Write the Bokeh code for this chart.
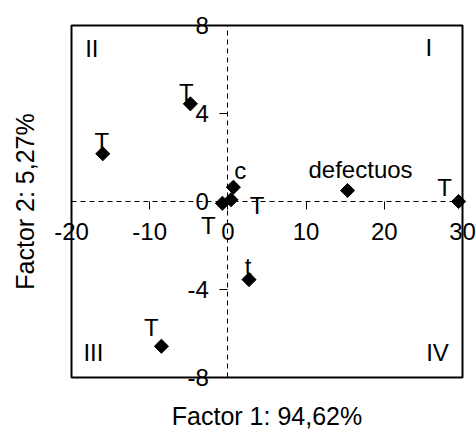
import numpy as np
from bokeh.plotting import figure
from bokeh.models import Range1d, FixedTicker, Label, ColumnDataSource, BoxAnnotation
from bokeh.core.properties import value
from bokeh.embed import file_html
from bokeh.resources import INLINE

# data
factor1 = [-16.0, -4.8, 0.7, -0.7, 0.4, 2.7, -8.5, 15.3, 29.5]
factor2 = [2.17, 4.44, 0.65, -0.08, 0.08, -3.55, -6.58, 0.5, 0.0]
point_labels = ["T", "T", "c", "T", "T", "t", "T", "defectuos", "T"]

x_ticks = [-20, -10, 0, 10, 20, 30]
y_ticks = [-8, -4, 0, 4, 8]

quadrant_names = ["I", "II", "III", "IV"]
quadrant_x = [25.7, -17.4, -17.2, 26.8]
quadrant_y = [7.0, 6.95, -6.86, -6.86]

x_title = "Factor 1: 94,62%"
y_title = "Factor 2: 5,27%"

# layout (pixels)
W, H = 476, 430
BOX_L, BOX_R, BOX_T, BOX_B = 71, 462, 25, 377
XMIN, XMAX, YMIN, YMAX = x_ticks[0], x_ticks[-1], y_ticks[0], y_ticks[-1]
sx = (BOX_R - BOX_L) / (XMAX - XMIN)
sy = (BOX_B - BOX_T) / (YMAX - YMIN)

# label placement (screen px)
label_dx = [-1, -4, 7, -14, 26, -1, -10, 13, -14]
label_dy = [-12, -11, -17, 22, 6, -13, -19, -21, -14]

FONT = "Liberation Sans"

p = figure(width=W, height=H,
           x_range=Range1d(XMIN - BOX_L / sx, XMAX + (W - BOX_R) / sx),
           y_range=Range1d(YMIN - (H - BOX_B) / sy, YMAX + BOX_T / sy),
           output_backend="svg", toolbar_location=None,
           min_border=0)
p.grid.visible = False
p.background_fill_color = "white"
p.border_fill_color = "white"
p.outline_line_color = None

p.add_layout(BoxAnnotation(left=XMIN, right=XMAX, bottom=YMIN, top=YMAX,
                           fill_alpha=0, line_color="black", line_width=2,
                           line_alpha=1))

for ax, ticks in ((p.xaxis, x_ticks), (p.yaxis, y_ticks)):
    ax.fixed_location = 0
    ax.bounds = (ticks[0], ticks[-1])
    ax.ticker = FixedTicker(ticks=ticks)
    ax.major_label_overrides = {t: str(t) for t in ticks}
    ax.axis_line_color = "black"
    ax.axis_line_width = 1
    ax.axis_line_dash = "5 4"
    ax.major_tick_line_color = "black"
    ax.major_tick_in = 0
    ax.major_tick_out = 8
    ax.minor_tick_line_color = None
    ax.major_label_text_font = FONT
    ax.major_label_text_font_size = "24px"
    ax.major_label_text_color = "black"
p.xaxis.major_label_standoff = 13
p.yaxis.major_label_standoff = 11

src = ColumnDataSource(dict(x=factor1, y=factor2, lab=point_labels,
                            dx=label_dx, dy=label_dy))
p.scatter("x", "y", source=src, marker="square", angle=np.pi / 4,
          size=10, color="black")
p.text("x", "y", text="lab", source=src, x_offset="dx", y_offset="dy",
       text_align="center", text_baseline="middle",
       text_font=value(FONT), text_font_size="24px", text_color="black")

qsrc = ColumnDataSource(dict(x=quadrant_x, y=quadrant_y, lab=quadrant_names))
p.text("x", "y", text="lab", source=qsrc, text_align="center",
       text_baseline="middle", text_font=value(FONT),
       text_font_size="24px", text_color="black")

p.add_layout(Label(x=(BOX_L + BOX_R) / 2, y=H - 415, x_units="screen", y_units="screen",
                   text=x_title, text_align="center",
                   text_baseline="middle", text_font=FONT,
                   text_font_size="25px", text_color="black"))
p.add_layout(Label(x=24, y=H - (BOX_T + BOX_B) / 2, x_units="screen", y_units="screen",
                   text=y_title, text_align="center", angle=np.pi / 2,
                   text_baseline="middle", text_font=FONT,
                   text_font_size="25px", text_color="black"))

open("out.html", "w").write(file_html(p, INLINE))
